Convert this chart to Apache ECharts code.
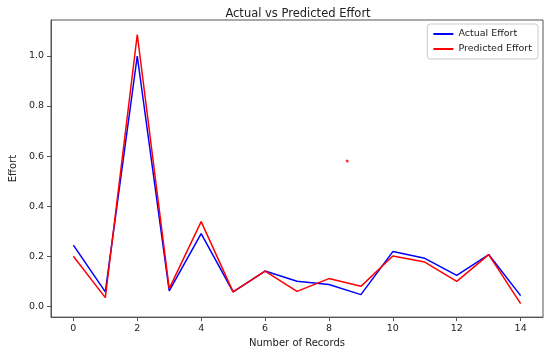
<!DOCTYPE html>
<html>
<head>
<meta charset="utf-8">
<script src="https://cdn.jsdelivr.net/npm/echarts@6/dist/echarts.min.js"></script>
<style>
  html, body { margin: 0; padding: 0; background: #fff; }
  #chart { width: 547px; height: 353px; }
</style>
</head>
<body>
<div id="chart"></div>
<script>
// record index 0..14
const records = [0, 1, 2, 3, 4, 5, 6, 7, 8, 9, 10, 11, 12, 13, 14];
const actualEffort = [0.244, 0.057, 1.0, 0.061, 0.29, 0.057, 0.14, 0.099, 0.086, 0.046, 0.218, 0.191, 0.123, 0.206, 0.042];
const predictedEffort = [0.199, 0.034, 1.086, 0.07, 0.338, 0.057, 0.14, 0.059, 0.11, 0.079, 0.2, 0.176, 0.099, 0.206, 0.01];
// stray red dot in the plot
const strayPoint = [[8.57, 0.58]];
const xTicks = [0, 2, 4, 6, 8, 10, 12, 14];
const yTicks = [0, 0.2, 0.4, 0.6, 0.8, 1.0];

const font = 'DejaVu Sans';
const chart = echarts.init(document.getElementById('chart'));

const option = {
  backgroundColor: '#fff',
  animation: false,
  textStyle: { fontFamily: font },
  title: {
    text: 'Actual vs Predicted Effort',
    left: 293,
    textAlign: 'center',
    top: 3,
    textStyle: { fontFamily: font, fontSize: 11.5, fontWeight: 'normal', color: '#222' }
  },
  legend: {
    orient: 'vertical',
    right: 9,
    top: 24,
    itemWidth: 20,
    itemHeight: 2,
    itemGap: 5,
    padding: [5, 6, 5, 6],
    borderColor: '#ccc',
    borderWidth: 1,
    borderRadius: 3,
    icon: 'rect',
    textStyle: { fontFamily: font, fontSize: 9.5, color: '#222' },
    data: ['Actual Effort', 'Predicted Effort']
  },
  grid: {
    left: 47,
    right: 4,
    top: 20,
    bottom: 34,
    show: true,
    borderColor: '#555',
    borderWidth: 1
  },
  xAxis: {
    type: 'value',
    min: -0.7,
    max: 14.7,
    name: 'Number of Records',
    nameLocation: 'middle',
    nameGap: 18,
    nameTextStyle: { fontFamily: font, fontSize: 10, color: '#222' },
    axisLine: { show: true, onZero: false, lineStyle: { color: '#555' } },
    axisTick: { show: true, inside: false, length: 4, lineStyle: { color: '#555' }, customValues: xTicks },
    axisLabel: { fontFamily: font, fontSize: 9.5, color: '#222', margin: 6, customValues: xTicks },
    splitLine: { show: false }
  },
  yAxis: {
    type: 'value',
    min: -0.044,
    max: 1.144,
    name: 'Effort',
    nameLocation: 'middle',
    nameGap: 27,
    nameTextStyle: { fontFamily: font, fontSize: 10, color: '#222' },
    axisLine: { show: true, onZero: false, lineStyle: { color: '#555' } },
    axisTick: { show: true, inside: false, length: 4, lineStyle: { color: '#555' }, customValues: yTicks },
    axisLabel: {
      fontFamily: font, fontSize: 9.5, color: '#222', margin: 7,
      customValues: yTicks,
      formatter: v => v.toFixed(1)
    },
    splitLine: { show: false }
  },
  series: [
    {
      name: 'Actual Effort',
      type: 'line',
      symbol: 'none',
      color: '#0000ff',
      lineStyle: { width: 1.5, color: '#0000ff' },
      data: records.map((r, i) => [r, actualEffort[i]])
    },
    {
      name: 'Predicted Effort',
      type: 'line',
      symbol: 'none',
      color: '#ff0000',
      lineStyle: { width: 1.5, color: '#ff0000' },
      data: records.map((r, i) => [r, predictedEffort[i]])
    },
    {
      name: 'stray',
      type: 'scatter',
      symbolSize: 3,
      itemStyle: { color: '#ff0000' },
      data: strayPoint
    }
  ]
};

chart.setOption(option);
</script>
</body>
</html>
